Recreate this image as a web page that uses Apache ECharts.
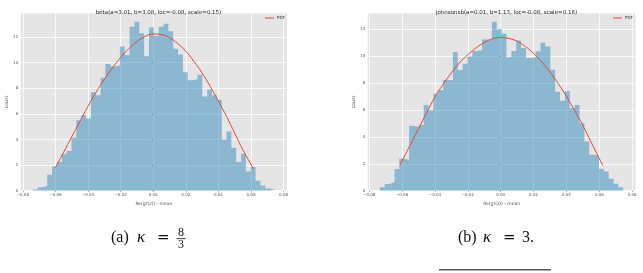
<!DOCTYPE html>
<html>
<head>
<meta charset="utf-8">
<script src="https://cdn.jsdelivr.net/npm/echarts@6/dist/echarts.min.js"></script>
<style>
html, body { margin: 0; padding: 0; background: #fff; }
#chart { width: 643px; height: 273px; }
</style>
</head>
<body>
<div id="chart"></div>
<script>
var xTicks = [-0.08, -0.06, -0.04, -0.02, 0, 0.02, 0.04, 0.06, 0.08];
var yTicks = [0, 2, 4, 6, 8, 10, 12];

// (a) beta fit
var betaTitle = 'beta(a=3.01, b=3.08, loc=-0.08, scale=0.15)';
var betaStart = -0.0739, betaWidth = 0.002972;
var betaCounts = [0.1, 0.27, 0.36, 1.25, 1.92, 2.25, 2.88, 3.1, 4.13, 5.5,
    5.9, 5.65, 7.7, 7.45, 8.83, 9.9, 9.72, 9.78, 11.27, 10.6,
    12.8, 13.2, 12.3, 10.5, 12.75, 12.1, 12.8, 13.05, 12.45, 11.1,
    10.65, 9.25, 8.62, 8.7, 9.05, 7.35, 7.9, 7.45, 7.1, 4.0,
    4.62, 3.35, 2.25, 2.88, 1.5, 1.85, 0.78, 0.4, 0.18, 0.1];
var betaPdfX = [-0.06, -0.055, -0.05, -0.045, -0.04, -0.035, -0.03, -0.025, -0.02, -0.015, -0.01, -0.005,
    0, 0.005, 0.01, 0.015, 0.02, 0.025, 0.03, 0.035, 0.04, 0.045, 0.05, 0.055, 0.0615];
var betaPdfY = [1.8, 3.0, 4.2, 5.4, 6.6, 7.7, 8.7, 9.6, 10.4, 11.1, 11.65, 12.05,
    12.25, 12.2, 11.95, 11.5, 10.9, 10.1, 9.2, 8.15, 7.0, 5.8, 4.5, 3.2, 1.72];

// (b) johnsonsb fit
var jsbTitle = 'johnsonsb(a=0.01, b=1.13, loc=-0.08, scale=0.16)';
var jsbStart = -0.0735, jsbWidth = 0.002962;
var jsbCounts = [0.25, 0.5, 0.64, 1.62, 2.38, 2.3, 4.82, 4.72, 4.88, 6.37,
    5.98, 7.22, 7.48, 8.22, 8.22, 10.3, 8.96, 9.43, 9.97, 10.37,
    10.42, 11.22, 11.22, 12.54, 11.97, 11.66, 9.9, 10.38, 11.15, 10.6,
    9.85, 9.9, 10.35, 10.98, 10.7, 8.97, 7.35, 6.68, 7.4, 6.12,
    6.37, 5.0, 3.65, 2.67, 2.6, 1.63, 1.43, 0.89, 0.52, 0.25];
var jsbPdfX = [-0.0613, -0.055, -0.05, -0.045, -0.04, -0.035, -0.03, -0.025, -0.02, -0.015, -0.01, -0.005,
    0, 0.005, 0.01, 0.015, 0.02, 0.025, 0.03, 0.035, 0.04, 0.045, 0.05, 0.055, 0.0621];
var jsbPdfY = [1.9, 3.4, 4.6, 5.8, 6.95, 7.9, 8.75, 9.5, 10.1, 10.6, 11.0, 11.28,
    11.38, 11.3, 11.1, 10.7, 10.2, 9.55, 8.8, 7.95, 7.0, 5.95, 4.85, 3.6, 1.88];

var FONT = 'DejaVu Sans';
var RED = '#E24A33';
var BAR = 'rgba(52,138,189,0.5)';

function fmtX(v) {
    return (v < 0 ? '\u2212' : '') + Math.abs(v).toFixed(2);
}

function xAxisFor(idx, min, max) {
    return {
        type: 'value', gridIndex: idx, min: min, max: max,
        name: 'Re(gt(z)) - mean', nameLocation: 'middle', nameGap: 9,
        nameTextStyle: {fontSize: 4.5, color: '#555', fontFamily: FONT},
        axisLine: {show: false},
        axisTick: {show: true, length: 1.5, customValues: xTicks, lineStyle: {color: '#555', width: 0.5}},
        axisLabel: {customValues: xTicks, fontSize: 4, color: '#555', margin: 2, fontFamily: FONT, formatter: fmtX},
        splitLine: {show: true, lineStyle: {color: '#fff', width: 0.8}}
    };
}

function yAxisFor(idx, max) {
    return {
        type: 'value', gridIndex: idx, min: 0, max: max,
        name: 'count', nameLocation: 'middle', nameGap: 11, nameRotate: 90,
        nameTextStyle: {fontSize: 4.5, color: '#555', fontFamily: FONT},
        axisLine: {show: false},
        axisTick: {show: true, length: 1.5, customValues: yTicks, lineStyle: {color: '#555', width: 0.5}},
        axisLabel: {customValues: yTicks, fontSize: 4, color: '#555', margin: 2.5, fontFamily: FONT},
        splitLine: {show: true, lineStyle: {color: '#fff', width: 0.8}}
    };
}

// histogram as one stepped area: each count holds from its left bin edge to the next
function histSeries(idx, start, width, counts) {
    var pts = counts.map(function (c, i) { return [start + i * width, c]; });
    pts.push([start + counts.length * width, counts[counts.length - 1]]);
    return {
        type: 'line', name: 'hist', xAxisIndex: idx, yAxisIndex: idx,
        data: pts, step: 'end', showSymbol: false, silent: true,
        lineStyle: {width: 0, opacity: 0},
        areaStyle: {color: BAR, opacity: 1}
    };
}

function pdfSeries(idx, xs, ys) {
    return {
        type: 'line', name: 'PDF', xAxisIndex: idx, yAxisIndex: idx,
        data: xs.map(function (x, i) { return [x, ys[i]]; }),
        smooth: 0.4, showSymbol: false, color: RED,
        lineStyle: {color: RED, width: 1}
    };
}

var chart = echarts.init(document.getElementById('chart'));
var captionFont = '"Liberation Serif", serif';

chart.setOption({
    animation: false,
    textStyle: {fontFamily: FONT},
    title: [
        {text: betaTitle, left: 153.5, top: 5, textAlign: 'center',
            textStyle: {fontSize: 5.5, fontWeight: 'normal', color: '#222', fontFamily: FONT}},
        {text: jsbTitle, left: 501.5, top: 5, textAlign: 'center',
            textStyle: {fontSize: 5.5, fontWeight: 'normal', color: '#222', fontFamily: FONT}}
    ],
    legend: [
        {data: ['PDF'], left: 265, top: 16, padding: 0, icon: 'rect', itemWidth: 9, itemHeight: 1,
            itemGap: 0, textStyle: {fontSize: 4, color: '#333', padding: [0, 0, 0, -2]}},
        {data: ['PDF'], left: 613, top: 16, padding: 0, icon: 'rect', itemWidth: 9, itemHeight: 1,
            itemGap: 0, textStyle: {fontSize: 4, color: '#333', padding: [0, 0, 0, -2]}}
    ],
    grid: [
        {left: 20.7, top: 13.3, width: 266.3, height: 177.4, show: true, backgroundColor: '#E5E5E5', borderWidth: 0},
        {left: 367.7, top: 13.3, width: 267.8, height: 177.4, show: true, backgroundColor: '#E5E5E5', borderWidth: 0}
    ],
    xAxis: [xAxisFor(0, -0.0813, 0.0821), xAxisFor(1, -0.0809, 0.0820)],
    yAxis: [yAxisFor(0, 13.86), yAxisFor(1, 13.17)],
    series: [
        histSeries(0, betaStart, betaWidth, betaCounts),
        pdfSeries(0, betaPdfX, betaPdfY),
        histSeries(1, jsbStart, jsbWidth, jsbCounts),
        pdfSeries(1, jsbPdfX, jsbPdfY)
    ],
    graphic: [
        // caption (a)
        {type: 'text', x: 111, y: 238, style: {text: '(a)', font: '16px ' + captionFont, fill: '#111', verticalAlign: 'middle'}},
        {type: 'text', x: 137, y: 238, style: {text: '\u03BA', font: 'italic 17px ' + captionFont, fill: '#111', verticalAlign: 'middle'}},
        {type: 'text', x: 157, y: 238, style: {text: '=', font: '15px "DejaVu Serif"', fill: '#111', verticalAlign: 'middle'}},
        {type: 'text', x: 181, y: 232.5, style: {text: '8', font: '12px ' + captionFont, fill: '#111', align: 'center', verticalAlign: 'middle'}},
        {type: 'rect', shape: {x: 176.5, y: 238.3, width: 9, height: 0.8}, style: {fill: '#111'}},
        {type: 'text', x: 181, y: 244.5, style: {text: '3', font: '12px ' + captionFont, fill: '#111', align: 'center', verticalAlign: 'middle'}},
        // caption (b)
        {type: 'text', x: 458, y: 238, style: {text: '(b)', font: '16px ' + captionFont, fill: '#111', verticalAlign: 'middle'}},
        {type: 'text', x: 483, y: 238, style: {text: '\u03BA', font: 'italic 17px ' + captionFont, fill: '#111', verticalAlign: 'middle'}},
        {type: 'text', x: 503, y: 238, style: {text: '=', font: '15px "DejaVu Serif"', fill: '#111', verticalAlign: 'middle'}},
        {type: 'text', x: 522, y: 238, style: {text: '3.', font: '16px ' + captionFont, fill: '#111', verticalAlign: 'middle'}},
        // rule under the captions
        {type: 'rect', shape: {x: 439, y: 269, width: 112, height: 1.6}, style: {fill: '#555'}}
    ]
});
</script>
</body>
</html>
